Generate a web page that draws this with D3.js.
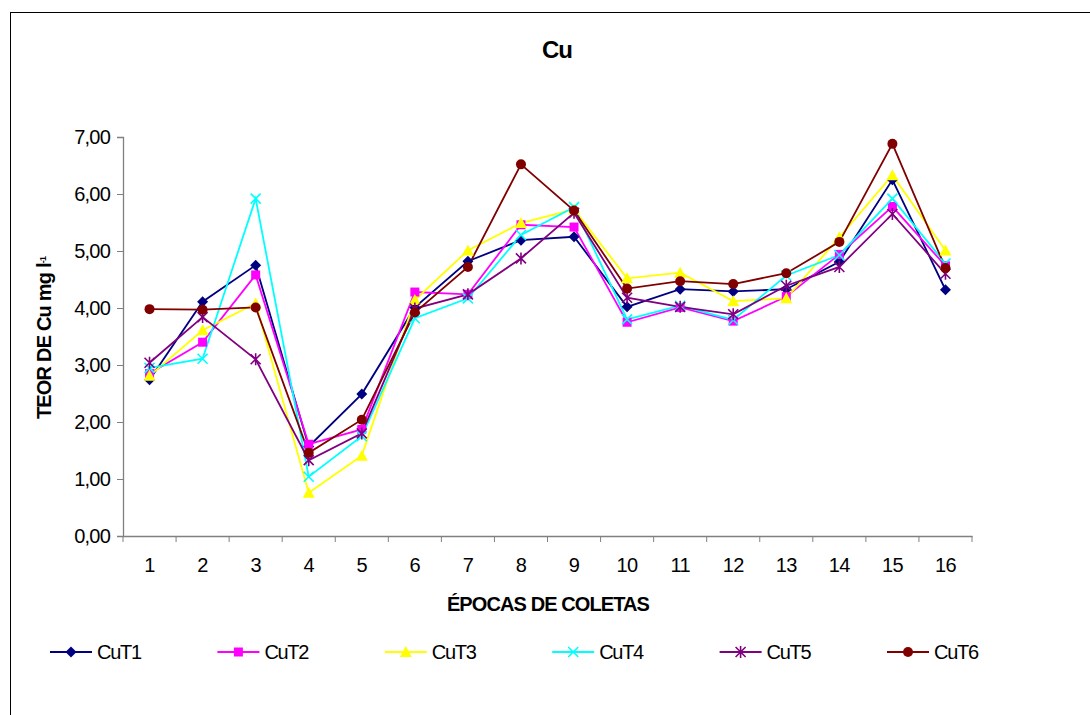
<!DOCTYPE html>
<html>
<head>
<meta charset="utf-8">
<script src="https://cdn.jsdelivr.net/npm/d3@7"></script>
<style>
  body { margin: 0; background: #fff; }
  svg { font-family: "Liberation Sans", Arial, sans-serif; }
</style>
</head>
<body>
<div id="chart"></div>
<script>
// Data
const epocas = ["1","2","3","4","5","6","7","8","9","10","11","12","13","14","15","16"];
const seriesNames = ["CuT1", "CuT2", "CuT3", "CuT4", "CuT5", "CuT6"];
const cuT1 = [2.74, 4.11, 4.75, 1.57, 2.49, 4.01, 4.82, 5.19, 5.25, 4.02, 4.33, 4.29, 4.33, 4.81, 6.25, 4.32];
const cuT2 = [2.85, 3.40, 4.58, 1.61, 1.87, 4.28, 4.24, 5.46, 5.42, 3.75, 4.01, 3.77, 4.20, 4.94, 5.78, 4.74];
const cuT3 = [2.81, 3.61, 4.08, 0.76, 1.41, 4.14, 5.01, 5.49, 5.73, 4.52, 4.62, 4.12, 4.17, 5.24, 6.33, 5.01];
const cuT4 = [2.95, 3.11, 5.92, 1.04, 1.75, 3.82, 4.17, 5.28, 5.77, 3.80, 4.04, 3.79, 4.57, 4.93, 5.92, 4.78];
const cuT5 = [3.04, 3.84, 3.10, 1.33, 1.80, 3.99, 4.24, 4.87, 5.67, 4.18, 4.02, 3.89, 4.39, 4.72, 5.65, 4.60];
const cuT6 = [3.98, 3.97, 4.01, 1.46, 2.04, 3.92, 4.72, 6.52, 5.71, 4.34, 4.47, 4.42, 4.61, 5.16, 6.88, 4.70];
const yTicks = [0, 1, 2, 3, 4, 5, 6, 7];

const allSeries = [cuT1, cuT2, cuT3, cuT4, cuT5, cuT6];
const colors = ["#000080", "#FF00FF", "#FFFF00", "#00FFFF", "#800080", "#800000"];
const symbols = ["diamond", "square", "triangle", "x", "star", "circle"];

const W = 1090, H = 715;
const plot = {left: 123, right: 972, top: 137, bottom: 536};

const svg = d3.select("#chart").append("svg")
    .attr("width", W)
    .attr("height", H);

// outer chart border (runs off the window on right/bottom)
svg.append("rect")
    .attr("x", 10.5).attr("y", 12.5)
    .attr("width", W + 20).attr("height", H + 20)
    .attr("fill", "none").attr("stroke", "#000").attr("stroke-width", 1);

const x = d3.scaleBand().domain(epocas).range([plot.left, plot.right]).padding(0);
const y = d3.scaleLinear().domain([0, 7]).range([plot.bottom, plot.top]);
const cx = d => x(d) + x.bandwidth() / 2;

// Y axis
const yAxis = svg.append("g")
    .attr("transform", `translate(${plot.left},0)`)
    .call(d3.axisLeft(y).tickValues(yTicks).tickSize(6).tickPadding(7)
        .tickFormat(d => d.toFixed(2).replace(".", ",")));
yAxis.select(".domain").attr("stroke", "#808080").attr("stroke-width", 1.3);
yAxis.selectAll(".tick line").attr("stroke", "#808080");
yAxis.selectAll("text").attr("font-size", 20).attr("letter-spacing", -0.8)
    .attr("fill", "#000").style("font-family", "'Liberation Sans', Arial, sans-serif");

// X axis: labels at centres, ticks at band edges
const xAxis = svg.append("g")
    .attr("transform", `translate(0,${plot.bottom})`)
    .call(d3.axisBottom(x).tickSize(0).tickPadding(22).tickSizeOuter(0));
xAxis.select(".domain").attr("stroke", "#808080").attr("stroke-width", 1.3);
xAxis.selectAll("text").attr("font-size", 20).attr("letter-spacing", -0.6)
    .attr("fill", "#000").style("font-family", "'Liberation Sans', Arial, sans-serif");
xAxis.selectAll(".edge")
    .data(epocas.map(d => x(d)).concat([plot.right]))
    .enter().append("line")
    .attr("class", "edge")
    .attr("x1", d => d).attr("x2", d => d)
    .attr("y1", 0).attr("y2", 6)
    .attr("stroke", "#808080");

// Titles
svg.append("text")
    .attr("x", 557).attr("y", 58)
    .attr("text-anchor", "middle")
    .attr("font-size", 24).attr("font-weight", "bold").attr("letter-spacing", -1)
    .text("Cu");

svg.append("text")
    .attr("x", 548).attr("y", 611)
    .attr("text-anchor", "middle")
    .attr("font-size", 20).attr("font-weight", "bold").attr("letter-spacing", -0.9)
    .text("ÉPOCAS DE COLETAS");

const yLabel = svg.append("text")
    .attr("transform", "translate(51,338) rotate(-90)")
    .attr("text-anchor", "middle")
    .attr("font-size", 20).attr("font-weight", "bold").attr("letter-spacing", -0.8);
yLabel.append("tspan").text("TEOR DE Cu mg l");
yLabel.append("tspan").attr("font-size", 9).attr("baseline-shift", "super").text("-1");

// marker drawing
function drawMarker(g, type, color) {
  if (type === "diamond") {
    g.append("path").attr("d", "M0,-5.5L5.5,0L0,5.5L-5.5,0Z").attr("fill", color);
  } else if (type === "square") {
    g.append("rect").attr("x", -4.5).attr("y", -4.5).attr("width", 9).attr("height", 9).attr("fill", color);
  } else if (type === "triangle") {
    g.append("path").attr("d", "M0,-6L6,5L-6,5Z").attr("fill", color);
  } else if (type === "x") {
    g.append("path").attr("d", "M-5,-5L5,5M-5,5L5,-5").attr("stroke", color).attr("stroke-width", 1.6);
  } else if (type === "star") {
    g.append("path").attr("d", "M-5,-5L5,5M-5,5L5,-5M0,-6L0,6").attr("stroke", color).attr("stroke-width", 1.6);
  } else if (type === "circle") {
    g.append("circle").attr("r", 5).attr("fill", color);
  }
}

const line = d3.line().x((d, i) => cx(epocas[i])).y(d => y(d));

allSeries.forEach((vals, si) => {
  svg.append("path")
      .datum(vals)
      .attr("fill", "none")
      .attr("stroke", colors[si])
      .attr("stroke-width", 1.8)
      .attr("d", line);
});
allSeries.forEach((vals, si) => {
  vals.forEach((v, i) => {
    const g = svg.append("g").attr("transform", `translate(${cx(epocas[i])},${y(v)})`);
    drawMarker(g, symbols[si], colors[si]);
  });
});

// Legend
const legend = svg.append("g");
seriesNames.forEach((name, si) => {
  const lx = 50 + si * 167.4, ly = 652;
  const item = legend.append("g");
  item.append("line")
      .attr("x1", lx).attr("x2", lx + 42)
      .attr("y1", ly).attr("y2", ly)
      .attr("stroke", colors[si]).attr("stroke-width", 1.8);
  drawMarker(item.append("g").attr("transform", `translate(${lx + 21},${ly})`), symbols[si], colors[si]);
  item.append("text")
      .attr("x", lx + 47).attr("y", ly + 7)
      .attr("font-size", 20).attr("letter-spacing", -1.3)
      .text(name);
});
</script>
</body>
</html>
